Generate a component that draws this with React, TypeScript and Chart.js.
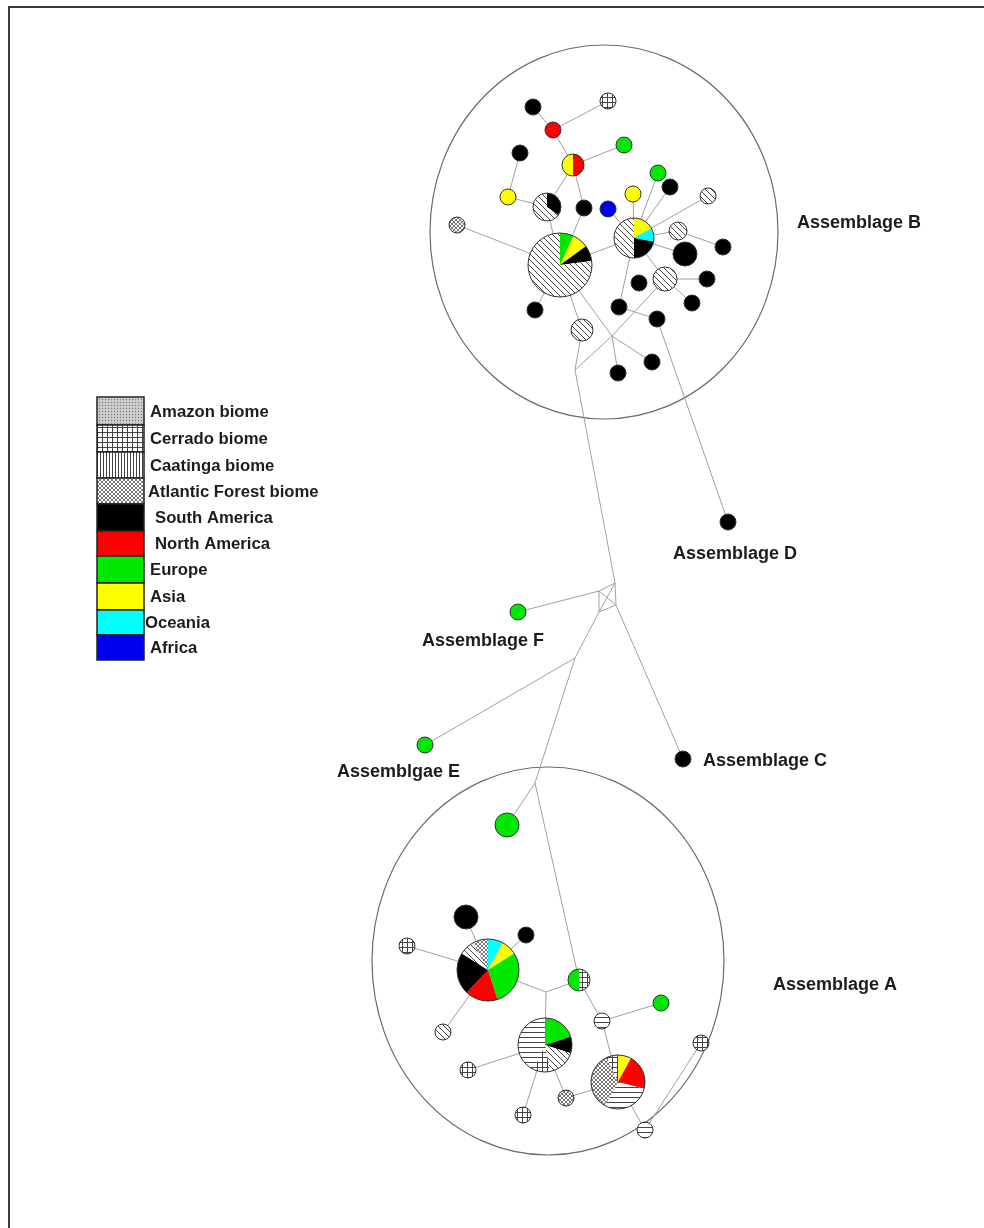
import React, { useEffect, useRef } from "react";
import { Chart, registerables } from "chart.js";

Chart.register(...registerables);

const CANVAS_W = 984;
const CANVAS_H = 1228;

// ---- haplotype network: vertices (haplotypes, r > 0; median vectors, r = 0) ----
const nodeX = [
  533, 608, 553, 624, 520, 573, 658, 670, 633, 508,
  547, 584, 608, 708, 457, 560, 634, 678, 723, 685,
  639, 665, 707, 692, 535, 619, 657, 582, 652, 618,
  728, 518, 425, 683, 507, 466, 526, 407, 488, 579,
  661, 602, 443, 545, 468, 618, 523, 566, 645, 701,
  575, 612, 599, 615, 616, 599, 575, 535, 546,
];
const nodeY = [
  107, 101, 130, 145, 153, 165, 173, 187, 194, 197,
  207, 208, 209, 196, 225, 265, 238, 231, 247, 254,
  283, 279, 279, 303, 310, 307, 319, 330, 362, 373,
  522, 612, 745, 759, 825, 917, 935, 946, 970, 980,
  1003, 1021, 1032, 1045, 1070, 1082, 1115, 1098, 1130, 1043,
  370, 336, 591, 583, 605, 612, 658, 783, 992,
];
const nodeR = [
  8, 8, 8, 8, 8, 11, 8, 8, 8, 8,
  14, 8, 8, 8, 8, 32, 20, 9, 8, 12,
  8, 12, 8, 8, 8, 8, 8, 11, 8, 8,
  8, 8, 8, 8, 12, 12, 8, 8, 31, 11,
  8, 8, 8, 27, 8, 27, 8, 8, 8, 8,
  0, 0, 0, 0, 0, 0, 0, 0, 0,
];
// composition, clockwise from 12 o'clock
const nodeComposition = [
  "black", "grid", "red", "green", "black", "red:0.5 yellow:0.5", "green", "black", "yellow", "yellow",
  "black:0.35 diag:0.65", "black", "blue", "diag", "check",
  "green:0.07 yellow:0.08 black:0.08 diag:0.77",
  "yellow:0.17 cyan:0.11 black:0.22 diag:0.5",
  "diag", "black", "black",
  "black", "diag", "black", "black", "black", "black", "black", "diag", "black", "black",
  "black", "green", "green", "black", "green", "black", "black", "grid",
  "cyan:0.08 yellow:0.08 green:0.29 red:0.17 black:0.22 diag:0.08 check:0.08",
  "grid:0.5 green:0.5",
  "green", "hline", "diag",
  "green:0.2 black:0.1 diag:0.17 grid:0.1 hline:0.43",
  "grid",
  "yellow:0.08 red:0.21 hline:0.29 check:0.35 grid:0.07",
  "grid", "check", "hline", "grid",
  "", "", "", "", "", "", "", "", "",
];
const edgeFrom = [
  0, 2, 2, 5, 4, 9, 10, 5, 10, 11, 14, 15, 12, 8, 6, 7, 13, 16, 17, 16,
  16, 21, 21, 24, 15, 27, 50, 51, 15, 51, 51, 16, 25, 26, 50, 52, 53, 54, 55, 52,
  53, 52, 54, 55, 56, 56, 57, 57,
  35, 36, 37, 42, 38, 58, 58, 39, 41, 41, 43, 43, 43, 47, 45, 48,
];
const edgeTo = [
  2, 1, 5, 3, 9, 10, 5, 11, 15, 15, 15, 16, 16, 16, 16, 16, 16, 17, 18, 19,
  21, 22, 23, 15, 27, 50, 51, 21, 51, 28, 29, 25, 26, 30, 53, 53, 54, 55, 52, 54,
  55, 31, 33, 56, 32, 57, 34, 39,
  38, 38, 38, 38, 58, 39, 43, 41, 40, 45, 44, 46, 47, 45, 48, 49,
];

// ---- assemblage labels ----
const assemblageNames = ["Assemblage B", "Assemblage D", "Assemblage F", "Assemblgae E", "Assemblage C", "Assemblage A"];
const labelX = [797, 673, 422, 337, 703, 773];
const labelY = [223, 554, 641, 772, 761, 985];

// ---- enclosing assemblage outlines ----
const groupCX = [604, 548];
const groupCY = [232, 961];
const groupRX = [174, 176];
const groupRY = [187, 194];

// ---- legend ----
const legendLabels = [
  "Amazon biome", "Cerrado biome", "Caatinga biome", "Atlantic Forest biome",
  "South America", "North America", "Europe", "Asia", "Oceania", "Africa",
];
const legendFills = ["amazon", "grid", "vline", "check", "black", "red", "green", "yellow", "cyan", "blue"];

const SOLID: Record<string, string> = {
  black: "#000000",
  red: "#ff0000",
  green: "#00e800",
  yellow: "#ffff00",
  cyan: "#00ffff",
  blue: "#0000f0",
};

function makePattern(ctx: CanvasRenderingContext2D, kind: string): CanvasPattern | string {
  const c = document.createElement("canvas");
  let s = 6;
  if (kind === "hline" || kind === "grid") s = 5;
  if (kind === "vline") s = 3;
  if (kind === "check") s = 4;
  if (kind === "amazon") s = 3;
  c.width = s;
  c.height = s;
  const g = c.getContext("2d")!;
  g.fillStyle = "#ffffff";
  g.fillRect(0, 0, s, s);
  g.strokeStyle = "#444444";
  g.lineWidth = 1;
  if (kind === "diag") {
    g.beginPath();
    g.moveTo(0, 0); g.lineTo(s, s);
    g.moveTo(-1, s - 1); g.lineTo(1, s + 1);
    g.moveTo(s - 1, -1); g.lineTo(s + 1, 1);
    g.stroke();
  } else if (kind === "hline") {
    g.beginPath(); g.moveTo(0, 2.5); g.lineTo(s, 2.5); g.stroke();
  } else if (kind === "vline") {
    g.beginPath(); g.moveTo(1.5, 0); g.lineTo(1.5, s); g.stroke();
  } else if (kind === "grid") {
    g.beginPath();
    g.moveTo(0, 2.5); g.lineTo(s, 2.5);
    g.moveTo(2.5, 0); g.lineTo(2.5, s);
    g.stroke();
  } else if (kind === "check") {
    g.strokeStyle = "#777777";
    g.beginPath();
    g.moveTo(0, 0); g.lineTo(s, s);
    g.moveTo(s, 0); g.lineTo(0, s);
    g.stroke();
  } else if (kind === "amazon") {
    g.fillStyle = "#c4c4c4";
    g.fillRect(0, 0, s, s);
    g.fillStyle = "#7a7a7a";
    g.fillRect(0, 0, 1, 1);
    g.fillStyle = "#eeeeee";
    g.fillRect(1.5, 1.5, 1, 1);
  }
  return ctx.createPattern(c, "repeat") || "#ffffff";
}

function parseComposition(s: string): Array<[string, number]> {
  return s.split(" ").filter(Boolean).map((p) => {
    const [k, v] = p.split(":");
    return [k, v === undefined ? 1 : parseFloat(v)] as [string, number];
  });
}

export default function App() {
  const ref = useRef<HTMLCanvasElement | null>(null);

  useEffect(() => {
    const canvas = ref.current;
    if (!canvas) return;
    const ctx0 = canvas.getContext("2d")!;
    const fills: Record<string, CanvasPattern | string> = { ...SOLID };
    ["diag", "hline", "vline", "grid", "check", "amazon"].forEach((k) => {
      fills[k] = makePattern(ctx0, k);
    });

    const background = {
      id: "figureBackground",
      beforeDraw(chart: any) {
        const ctx = chart.ctx;
        ctx.save();
        ctx.fillStyle = "#ffffff";
        ctx.fillRect(0, 0, chart.width, chart.height);
        ctx.strokeStyle = "#3a3a3a";
        ctx.lineWidth = 2;
        ctx.beginPath();
        ctx.moveTo(9, chart.height);
        ctx.lineTo(9, 7);
        ctx.lineTo(chart.width, 7);
        ctx.stroke();
        ctx.restore();
      },
    };

    const outlines = {
      id: "assemblageOutlines",
      beforeDatasetsDraw(chart: any) {
        const ctx = chart.ctx;
        const xs = chart.scales.x;
        const ys = chart.scales.y;
        ctx.save();
        ctx.strokeStyle = "#6a6a6a";
        ctx.lineWidth = 1.2;
        groupCX.forEach((cx, i) => {
          const px = xs.getPixelForValue(cx);
          const py = ys.getPixelForValue(groupCY[i]);
          const rx = Math.abs(xs.getPixelForValue(cx + groupRX[i]) - px);
          const ry = Math.abs(ys.getPixelForValue(groupCY[i] + groupRY[i]) - py);
          ctx.beginPath();
          ctx.ellipse(px, py, rx, ry, 0, 0, Math.PI * 2);
          ctx.stroke();
        });
        ctx.restore();
      },
    };

    const nodes = {
      id: "haplotypeNodes",
      afterDatasetsDraw(chart: any) {
        const ctx = chart.ctx;
        const meta = chart.getDatasetMeta(0);
        ctx.save();
        meta.data.forEach((el: any, i: number) => {
          const r = nodeR[i];
          if (!r) return;
          const parts = parseComposition(nodeComposition[i]);
          let a = -Math.PI / 2;
          parts.forEach(([k, f]) => {
            const a2 = a + f * Math.PI * 2;
            ctx.beginPath();
            if (parts.length === 1) {
              ctx.arc(el.x, el.y, r, 0, Math.PI * 2);
            } else {
              ctx.moveTo(el.x, el.y);
              ctx.arc(el.x, el.y, r, a, a2);
              ctx.closePath();
            }
            ctx.fillStyle = fills[k] || "#ffffff";
            ctx.fill();
            a = a2;
          });
          ctx.beginPath();
          ctx.arc(el.x, el.y, r, 0, Math.PI * 2);
          ctx.strokeStyle = "#333333";
          ctx.lineWidth = 1;
          ctx.stroke();
        });
        ctx.restore();
      },
    };

    const texts = {
      id: "assemblageLabels",
      afterDraw(chart: any) {
        const ctx = chart.ctx;
        const xs = chart.scales.x;
        const ys = chart.scales.y;
        ctx.save();
        ctx.fillStyle = "#1c1c1c";
        ctx.textBaseline = "middle";
        ctx.textAlign = "left";
        ctx.font = "bold 18px 'Liberation Sans', Arial, sans-serif";
        assemblageNames.forEach((t, i) => {
          ctx.fillText(t, xs.getPixelForValue(labelX[i]), ys.getPixelForValue(labelY[i]));
        });

        // legend
        const rows = [397, 425, 452, 478, 504, 531, 556, 583, 610, 635, 660];
        const textX = [150, 150, 150, 148, 155, 155, 150, 150, 145, 150];
        const bx0 = xs.getPixelForValue(97);
        const bx1 = xs.getPixelForValue(144);
        ctx.font = "bold 16.7px 'Liberation Sans', Arial, sans-serif";
        legendLabels.forEach((lab, i) => {
          const y0 = ys.getPixelForValue(rows[i]);
          const y1 = ys.getPixelForValue(rows[i + 1]);
          ctx.fillStyle = fills[legendFills[i]] || "#fff";
          ctx.fillRect(bx0, y0, bx1 - bx0, y1 - y0);
          ctx.strokeStyle = "#222222";
          ctx.lineWidth = 1.5;
          ctx.strokeRect(bx0, y0, bx1 - bx0, y1 - y0);
          ctx.fillStyle = "#1c1c1c";
          ctx.fillText(lab, xs.getPixelForValue(textX[i]), (y0 + y1) / 2 + 1);
        });
        ctx.restore();
      },
    };

    const edgeDatasets = edgeFrom.map((a, i) => {
      const b = edgeTo[i];
      return {
        type: "line" as const,
        data: [
          { x: nodeX[a], y: nodeY[a] },
          { x: nodeX[b], y: nodeY[b] },
        ],
        borderColor: "#a0a0a0",
        borderWidth: 1,
        pointRadius: 0,
        fill: false,
        tension: 0,
      };
    });

    const chart = new Chart(canvas, {
      type: "scatter",
      data: {
        datasets: [
          {
            type: "scatter" as const,
            data: nodeX.map((x, i) => ({ x, y: nodeY[i] })),
            pointRadius: 0,
            pointHoverRadius: 0,
          },
          ...edgeDatasets,
        ] as any,
      },
      options: {
        responsive: false,
        maintainAspectRatio: false,
        animation: false,
        events: [],
        layout: { padding: 0 },
        scales: {
          x: { type: "linear", min: 0, max: CANVAS_W, display: false },
          y: { type: "linear", min: 0, max: CANVAS_H, reverse: true, display: false },
        },
        plugins: {
          legend: { display: false },
          tooltip: { enabled: false },
        },
      },
      plugins: [background, outlines, nodes, texts],
    });

    return () => chart.destroy();
  }, []);

  return (
    <div style={{ position: "absolute", left: 0, top: 0, width: CANVAS_W, height: CANVAS_H, background: "#fff" }}>
      <canvas ref={ref} width={CANVAS_W} height={CANVAS_H} style={{ display: "block" }} />
    </div>
  );
}
